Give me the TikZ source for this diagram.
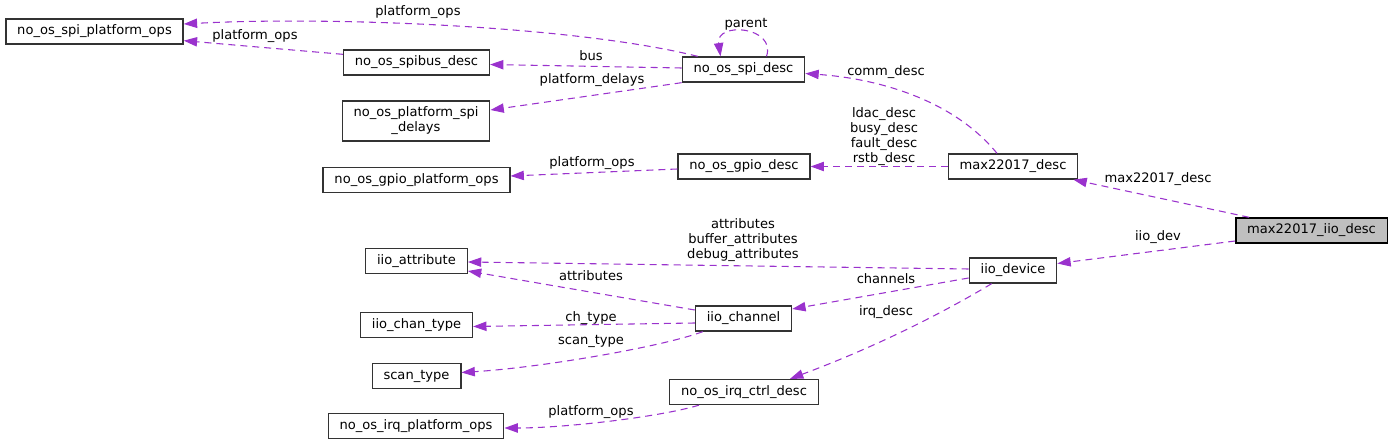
\documentclass[tikz,border=0pt]{standalone}
\usepackage{fontspec}
\setmainfont{DejaVu Sans}
\usepackage{xcolor}
\usepackage{tikz}
\usetikzlibrary{arrows.meta,calc}

\definecolor{orchid}{HTML}{9A32CD}
\definecolor{rootgray}{HTML}{BFBFBF}

\begin{document}
\begin{tikzpicture}[
    x=0.75pt, y=-0.75pt,
    box/.style={draw=black!80, line width=1pt, fill=white, minimum height=18.75pt, inner xsep=8.5pt, inner ysep=0pt, align=center, font=\fontsize{9.8}{11.2}\selectfont},
    arrow/.style={-{Triangle[length=10pt,width=7pt]}, orchid, line width=0.8pt, dash pattern=on 5.25pt off 3.75pt},
    lbl/.style={font=\fontsize{9.8}{11.2}\selectfont, align=center, inner sep=0pt}
]
    \useasboundingbox (0,0) rectangle (1392,445);

    % Classes
    \node[box] (spiplatops) at (94.5,31.5) {no\_os\_spi\_platform\_ops};
    \node[box] (spibus) at (416.5,62.5) {no\_os\_spibus\_desc};
    \node[box, minimum height=30pt] (spidelays) at (416,121) {no\_os\_platform\_spi\\\_delays};
    \node[box] (gpioplatops) at (416.5,180) {no\_os\_gpio\_platform\_ops};
    \node[box] (spidesc) at (743.5,69.5) {no\_os\_spi\_desc};
    \node[box] (gpiodesc) at (744,166.5) {no\_os\_gpio\_desc};
    \node[box] (maxdesc) at (1013,166.5) {max22017\_desc};
    \node[box, fill=rootgray, draw=black] (iiodesc) at (1311.5,230.5) {max22017\_iio\_desc};
    \node[box] (iiodevice) at (1013,270.5) {iio\_device};
    \node[box] (iioattr) at (416.5,261) {iio\_attribute};
    \node[box] (chantype) at (416.5,325) {iio\_chan\_type};
    \node[box] (scantype) at (416.5,376) {scan\_type};
    \node[box] (irqplatops) at (416,426) {no\_os\_irq\_platform\_ops};
    \node[box] (iiochannel) at (743.5,318.5) {iio\_channel};
    \node[box] (irqctrl) at (744,392) {no\_os\_irq\_ctrl\_desc};

    % Members
    \draw[arrow] ($(spidesc.north west)+(16,0)$) .. controls +(-120,-30) and +(150,-8) .. ($(spiplatops.east)+(0,-7.5)$);
    \draw[arrow] ($(spibus.north west)+(0,5)$) -- ($(spiplatops.south east)+(0,-4)$);
    \draw[arrow] ($(spidesc.west)+(0,-1.5)$) -- ($(spibus.east)+(0,2)$);
    \draw[arrow] (spidesc.south west) -- ($(spidelays.east)+(0,-11)$);
    \draw[arrow] ($(spidesc.north)+(23,0)$) .. controls +(10,-30) and +(-5,-35) .. ($(spidesc.north)+(-23,0)$);
    \draw[arrow] ($(maxdesc.north)+(-16,0)$) .. controls +(-45,-55) and +(70,5) .. ($(spidesc.east)+(0,4)$);
    \draw[arrow] (maxdesc.west) -- (gpiodesc.east);
    \draw[arrow] ($(gpiodesc.west)+(0,2.5)$) -- ($(gpioplatops.east)+(0,-4)$);
    \draw[arrow] ($(iiodesc.north west)+(14,0)$) -- ($(maxdesc.south east)+(-5,0)$);
    \draw[arrow] ($(iiodesc.west)+(0,10.5)$) -- ($(iiodevice.east)+(0,-7)$);
    \draw[arrow] ($(iiodevice.west)+(0,-1.5)$) -- ($(iioattr.east)+(0,1)$);
    \draw[arrow] ($(iiochannel.west)+(0,-8.5)$) -- ($(iioattr.east)+(0,10)$);
    \draw[arrow] ($(iiodevice.west)+(0,7.5)$) -- ($(iiochannel.east)+(0,-9.5)$);
    \draw[arrow] ($(iiodevice.south west)+(23,0)$) .. controls +(-67,40) and +(67,-25) .. ($(irqctrl.north)+(46,0)$);
    \draw[arrow] ($(iiochannel.west)+(0,4.5)$) -- ($(chantype.east)+(0,1.5)$);
    \draw[arrow] ($(iiochannel.south west)+(8,0)$) .. controls +(-40,15) and +(80,-5) .. ($(scantype.east)+(0,-3.5)$);
    \draw[arrow] ($(irqctrl.south west)+(30,0)$) .. controls +(-40,12) and +(60,0) .. ($(irqplatops.east)+(0,2)$);

    % Labels
    \node[lbl] (lspiops) at (418,12) {platform\_ops};
    \node[lbl] (lbusops) at (255,36) {platform\_ops};
    \node[lbl] (lbus) at (591,56) {bus};
    \node[lbl] (ldelays) at (592,80) {platform\_delays};
    \node[lbl] (lparent) at (746,24) {parent};
    \node[lbl] (lcomm) at (886,72) {comm\_desc};
    \node[lbl] (lgpio) at (884,136.5) {ldac\_desc\\busy\_desc\\fault\_desc\\rstb\_desc};
    \node[lbl] (lgpioops) at (592,163) {platform\_ops};
    \node[lbl] (lmax) at (1158,179) {max22017\_desc};
    \node[lbl] (ldev) at (1158,237) {iio\_dev};
    \node[lbl] (lattrs) at (743,240.5) {attributes\\buffer\_attributes\\debug\_attributes};
    \node[lbl] (lchattr) at (591,276) {attributes};
    \node[lbl] (lchan) at (886,279) {channels};
    \node[lbl] (lirq) at (886,312) {irq\_desc};
    \node[lbl] (lchtype) at (591,318) {ch\_type};
    \node[lbl] (lscan) at (591,341) {scan\_type};
    \node[lbl] (lirqops) at (591,412) {platform\_ops};
\end{tikzpicture}
\end{document}
